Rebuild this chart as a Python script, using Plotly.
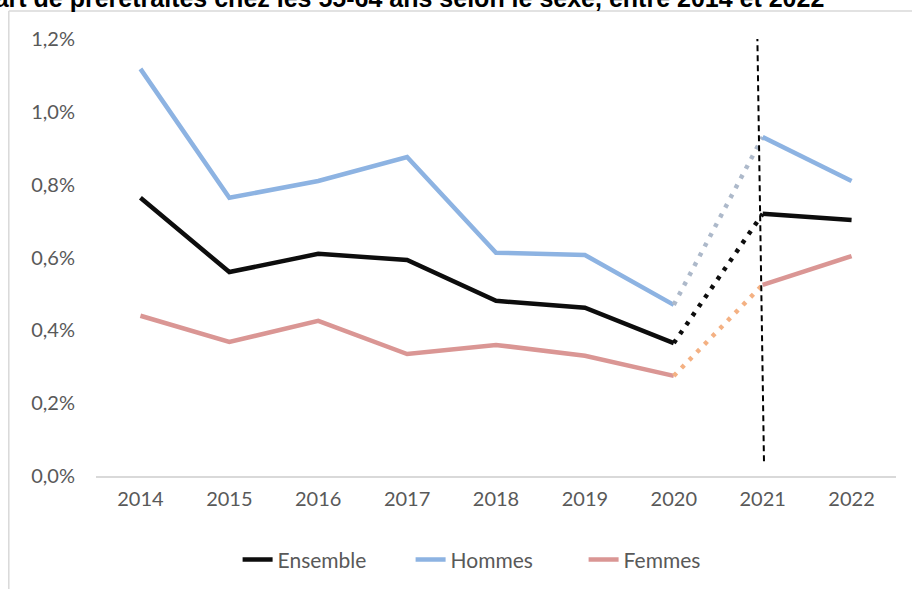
import plotly.graph_objects as go

years = [2014, 2015, 2016, 2017, 2018, 2019, 2020, 2021, 2022]
ensemble = [0.764, 0.560, 0.610, 0.593, 0.481, 0.462, 0.365, 0.720, 0.703]
hommes = [1.118, 0.764, 0.810, 0.876, 0.613, 0.607, 0.470, 0.931, 0.810]
femmes = [0.440, 0.368, 0.426, 0.335, 0.360, 0.330, 0.275, 0.525, 0.604]

y_ticks = [0, 0.2, 0.4, 0.6, 0.8, 1.0, 1.2]
y_labels = ["0,0%", "0,2%", "0,4%", "0,6%", "0,8%", "1,0%", "1,2%"]

title = "Part de préretraités chez les 55-64 ans selon le sexe, entre 2014 et 2022"

series = [
    ("Ensemble", ensemble, "#0D0D0D", "#0D0D0D"),
    ("Hommes", hommes, "#8DB3E2", "#ADB9CA"),
    ("Femmes", femmes, "#DA9694", "#F4B183"),
]

fig = go.Figure()
for name, vals, color, dot_color in series:
    # 2014-2020 solid
    fig.add_trace(go.Scatter(x=years[:7], y=vals[:7], mode="lines", name=name,
                             legendgroup=name, line=dict(color=color, width=4.5)))
    # 2020-2021 break in series, dotted
    fig.add_trace(go.Scatter(x=years[6:8], y=vals[6:8], mode="lines", showlegend=False,
                             legendgroup=name,
                             line=dict(color=dot_color, width=4.5, dash="4px,7px")))
    # 2021-2022 solid
    fig.add_trace(go.Scatter(x=years[7:], y=vals[7:], mode="lines", showlegend=False,
                             legendgroup=name, line=dict(color=color, width=4.5)))

# vertical dashed separator
fig.add_shape(type="line", xref="x", yref="y", x0=2020.94, y0=1.21, x1=2021.015, y1=0.036,
              line=dict(color="black", width=2, dash="6px,4px"))

# chart frame (left and top edges)
fig.add_shape(type="line", xref="paper", yref="paper", x0=-0.109, y0=1.064, x1=1.1, y1=1.064,
              line=dict(color="#D9D9D9", width=1.5))
fig.add_shape(type="line", xref="paper", yref="paper", x0=-0.109, y0=1.064, x1=-0.109, y1=-0.3,
              line=dict(color="#D9D9D9", width=1.5))

fig.add_annotation(text="<b>" + title + "</b>", xref="paper", yref="paper",
                   x=0.9125, y=1.0938, xanchor="right", yanchor="middle", showarrow=False,
                   font=dict(family="Liberation Sans", size=25, color="black"))

fig.update_layout(
    width=912, height=589,
    margin=dict(l=96, r=16, t=39, b=113, autoexpand=False),
    paper_bgcolor="white", plot_bgcolor="white",
    font=dict(family="Lato", size=20, color="#595959"),
    showlegend=True,
    legend=dict(orientation="h", x=0.177, y=-0.192, xanchor="left", yanchor="middle",
                font=dict(size=21, color="#595959"), entrywidth=128),
    xaxis=dict(range=[2013.5, 2022.5], tickvals=years, showgrid=False, zeroline=False,
               showline=True, linecolor="#D9D9D9", linewidth=1.5, ticks="",
               ticklabelstandoff=4),
    yaxis=dict(range=[0, 1.2], tickvals=y_ticks, ticktext=y_labels, showgrid=False,
               zeroline=False, showline=False, ticks="", ticklabelstandoff=20),
)

# drop the browser's default page margin so the figure sits at the window corner
fig.write_html("out.html", config={"displayModeBar": False},
               post_script="document.body.style.margin='0';")
